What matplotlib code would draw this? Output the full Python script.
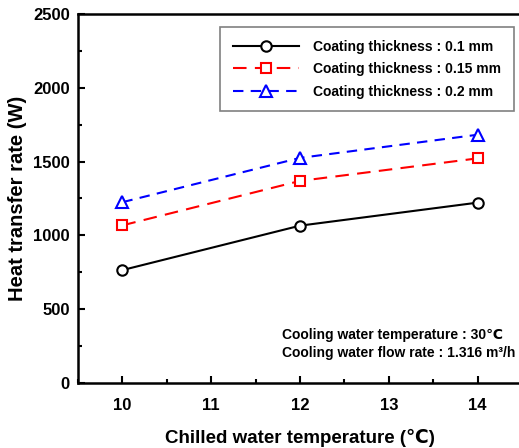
import matplotlib
matplotlib.use('Agg')
from matplotlib import pyplot as plt
from matplotlib.ticker import MultipleLocator

plt.rcParams['font.family'] = ['Liberation Sans', 'DejaVu Sans']

temps = [10, 12, 14]
q_01 = [765, 1066, 1222]
q_015 = [1068, 1369, 1522]
q_02 = [1225, 1525, 1682]
labels = ['Coating thickness : 0.1 mm', 'Coating thickness : 0.15 mm', 'Coating thickness : 0.2 mm']

fig = plt.figure(figsize=(5.19, 4.48), dpi=100)
ax = fig.add_axes([78 / 519, 65 / 448, 444 / 519, 369 / 448])

ax.plot(temps, q_01, color='black', lw=1.5, marker='o', ms=7.5, mfc='white', mec='black', mew=1.5, label=labels[0])
ax.plot(temps, q_015, color='red', lw=1.5, marker='s', ms=7.5, mfc='white', mec='red', mew=1.5,
        dashes=(6.5, 4), label=labels[1])
ax.plot(temps, q_02, color='blue', lw=1.5, marker='^', ms=8, mfc='white', mec='blue', mew=1.5,
        dashes=(5, 3.5), label=labels[2])

ax.set_xlim(9.5, 14.5)
ax.set_ylim(0, 2500)
ax.xaxis.set_major_locator(MultipleLocator(1))
ax.xaxis.set_minor_locator(MultipleLocator(0.5))
ax.yaxis.set_major_locator(MultipleLocator(500))
ax.yaxis.set_minor_locator(MultipleLocator(250))
ax.tick_params(which='both', direction='in', top=False, right=False, width=1.5)
ax.tick_params(which='major', length=5, labelsize=12)
ax.tick_params(which='minor', length=3)
ax.tick_params(axis='x', which='major', pad=11)
ax.tick_params(axis='y', which='major', pad=6)
for t in ax.get_xticklabels() + ax.get_yticklabels():
    t.set_fontweight('bold')
for s in ax.spines.values():
    s.set_linewidth(1.8)

ax.set_xlabel('Chilled water temperature (℃)', fontsize=13.5, fontweight='bold', labelpad=11)
ax.set_ylabel('Heat transfer rate (W)', fontsize=14.5, fontweight='bold', labelpad=4)

leg = ax.legend(loc='upper left', bbox_to_anchor=(220 / 519, 1 - 27 / 448), bbox_transform=fig.transFigure,
                borderaxespad=0, prop={'weight': 'bold', 'size': 10}, handlelength=4.8, handletextpad=1.0,
                fancybox=False, edgecolor='gray', framealpha=1, borderpad=0.9, labelspacing=0.62)
leg.get_frame().set_linewidth(1.2)

fig.text(282 / 519, 1 - 335 / 448, 'Cooling water temperature : 30℃', fontsize=10, fontweight='bold', va='center')
fig.text(282 / 519, 1 - 353 / 448, 'Cooling water flow rate : 1.316 m³/h', fontsize=10, fontweight='bold', va='center')

fig.savefig('out.png', dpi=100)
